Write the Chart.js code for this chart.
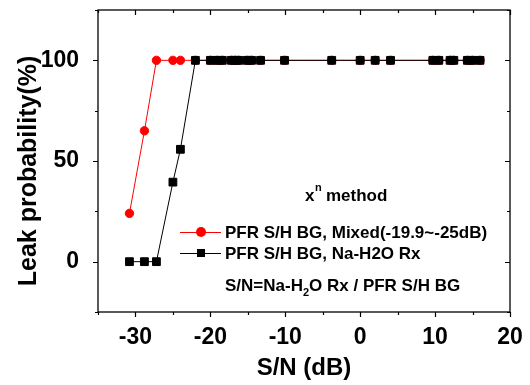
<!DOCTYPE html>
<html>
<head>
<meta charset="utf-8">
<script src="https://cdn.jsdelivr.net/npm/chart.js@4.4.1/dist/chart.umd.min.js"></script>
<style>
  html, body { margin: 0; padding: 0; background: #fff; }
  #wrap { width: 530px; height: 385px; }
</style>
</head>
<body>
<div id="wrap"><canvas id="leak"></canvas></div>
<script>
// S/N (dB) positions and leak probability (%)
var mixedSN = [-30.8, -28.8, -27.2, -25.0, -24.0, -22.0, -20.0, -19.1, -18.4, -17.2, -16.7, -16.2,
  -15.1, -14.5, -13.3, -10.1, -3.8, 0.0, 2.0, 4.05, 9.7, 10.5, 12.0, 12.5, 14.3, 15.0, 16.0];
var mixedLeak = [24, 65, 100, 100, 100, 100, 100, 100, 100, 100, 100, 100,
  100, 100, 100, 100, 100, 100, 100, 100, 100, 100, 100, 100, 100, 100, 100];

var naSN = [-30.8, -28.8, -27.2, -25.0, -24.0, -22.0, -20.0, -19.1, -18.4, -17.2, -16.7, -16.2,
  -15.1, -14.5, -13.3, -10.1, -3.8, 0.0, 2.0, 4.05, 9.7, 10.5, 12.0, 12.5, 14.3, 15.0, 16.0];
var naLeak = [0, 0, 0, 39.5, 55.8, 100, 100, 100, 100, 100, 100, 100,
  100, 100, 100, 100, 100, 100, 100, 100, 100, 100, 100, 100, 100, 100, 100];

var seriesNames = ["PFR S/H BG, Mixed(-19.9~-25dB)", "PFR S/H BG, Na-H2O Rx"];
var xTickLabels = [-30, -20, -10, 0, 10, 20];
var yTickLabels = [0, 50, 100];

function toPoints(xs, ys) {
  return xs.map(function (x, i) { return { x: x, y: ys[i] }; });
}

var FONT = "'Liberation Sans', Arial, sans-serif";

// frame with ticks: outward on left/bottom, inward on top/right
var framePlugin = {
  id: "frame",
  afterDraw: function (chart) {
    var c = chart.ctx, a = chart.chartArea;
    var xs = chart.scales.x, ys = chart.scales.y;
    c.save();
    c.strokeStyle = "#000";
    c.lineWidth = 1.3;
    c.strokeRect(a.left, a.top, a.right - a.left, a.bottom - a.top);
    c.lineWidth = 1.2;
    c.beginPath();
    xs.ticks.forEach(function (t) {
      var px = Math.round(xs.getPixelForValue(t.value)) + 0.5;
      var len = t.value % 10 === 0 ? 5 : 3;
      c.moveTo(px, a.bottom); c.lineTo(px, a.bottom + len);
      c.moveTo(px, a.top); c.lineTo(px, a.top + len);
    });
    ys.ticks.forEach(function (t) {
      var py = Math.round(ys.getPixelForValue(t.value)) + 0.5;
      var len = t.value % 50 === 0 ? 5 : 3;
      c.moveTo(a.left, py); c.lineTo(a.left - len, py);
      c.moveTo(a.right, py); c.lineTo(a.right - len, py);
    });
    c.stroke();

    // y axis title, sits a little below the plot centre
    c.translate(29, 171);
    c.rotate(-Math.PI / 2);
    c.fillStyle = "#000";
    c.font = "bold 25px " + FONT;
    c.textAlign = "center";
    c.textBaseline = "middle";
    c.fillText("Leak probability(%)", 0, 0);
    c.restore();
  }
};

// legend and notes inside the plot area
var notesPlugin = {
  id: "notes",
  afterDraw: function (chart) {
    var c = chart.ctx;
    var ds = chart.data.datasets;
    c.save();
    c.fillStyle = "#000";
    c.textBaseline = "alphabetic";
    c.textAlign = "left";
    // x^n method
    c.font = "bold 17px " + FONT;
    c.fillText("x", 305, 201);
    c.font = "bold 11px " + FONT;
    c.fillText("n", 315, 191);
    c.font = "bold 17px " + FONT;
    c.fillText("method", 326, 201);

    var rows = [232, 253];
    rows.forEach(function (y, i) {
      var d = ds[i];
      c.strokeStyle = d.borderColor;
      c.lineWidth = 1;
      c.beginPath();
      c.moveTo(180, y + 0.5); c.lineTo(221, y + 0.5);
      c.stroke();
      c.fillStyle = d.pointBackgroundColor;
      if (d.pointStyle === "circle") {
        c.beginPath(); c.arc(201, y, 5, 0, Math.PI * 2); c.fill();
      } else {
        c.fillRect(197, y - 4, 8, 8);
      }
      c.fillStyle = "#000";
      c.font = "bold 17px " + FONT;
      c.fillText(d.label, 225, y + 6);
    });

    // S/N=Na-H2O Rx / PFR S/H BG with subscript 2
    var x0 = 225, yb = 291;
    c.font = "bold 17px " + FONT;
    var p1 = "S/N=Na-H";
    c.fillText(p1, x0, yb);
    x0 += c.measureText(p1).width;
    c.font = "bold 11px " + FONT;
    c.fillText("2", x0, yb + 5);
    x0 += c.measureText("2").width;
    c.font = "bold 17px " + FONT;
    c.fillText("O Rx / PFR S/H BG", x0, yb);
    c.restore();
  }
};

var ctx = document.getElementById("leak").getContext("2d");
var leakChart = new Chart(ctx, {
  type: "scatter",
  data: {
    datasets: [
      {
        label: seriesNames[0],
        data: toPoints(mixedSN, mixedLeak),
        showLine: true,
        borderColor: "#ff0000",
        backgroundColor: "#ff0000",
        pointBackgroundColor: "#ff0000",
        pointBorderColor: "#ff0000",
        pointStyle: "circle",
        pointRadius: 4.2,
        borderWidth: 1,
        order: 2
      },
      {
        label: seriesNames[1],
        data: toPoints(naSN, naLeak),
        showLine: true,
        borderColor: "#000000",
        backgroundColor: "#000000",
        pointBackgroundColor: "#000000",
        pointBorderColor: "#000000",
        pointStyle: "rect",
        pointRadius: 5.5,
        borderWidth: 1,
        order: 1
      }
    ]
  },
  options: {
    responsive: true,
    maintainAspectRatio: false,
    animation: false,
    layout: { padding: { top: 10, right: 20, left: 0, bottom: 0 } },
    plugins: { legend: { display: false }, tooltip: { enabled: false } },
    scales: {
      x: {
        type: "linear",
        min: -35,
        max: 20,
        grid: { display: false },
        border: { display: false },
        ticks: {
          stepSize: 5,
          padding: 4,
          color: "#000",
          font: { family: FONT, size: 23, weight: "bold" },
          maxRotation: 0,
          autoSkip: false,
          callback: function (v) { return xTickLabels.indexOf(v) >= 0 ? String(v) : ""; }
        },
        title: {
          display: true,
          text: "S/N (dB)",
          color: "#000",
          font: { family: FONT, size: 24, weight: "bold" },
          padding: 2
        },
        afterFit: function (s) { s.height = 73; s.paddingLeft = 0; s.paddingRight = 0; }
      },
      y: {
        type: "linear",
        min: -25,
        max: 125,
        grid: { display: false },
        border: { display: false },
        ticks: {
          stepSize: 25,
          padding: 11,
          color: "#000",
          font: { family: FONT, size: 23, weight: "bold" },
          autoSkip: false,
          callback: function (v) { return yTickLabels.indexOf(v) >= 0 ? String(v) : ""; }
        },
        afterFit: function (s) { s.width = 98; s.paddingTop = 0; s.paddingBottom = 0; }
      }
    }
  },
  plugins: [framePlugin, notesPlugin]
});
</script>
</body>
</html>
